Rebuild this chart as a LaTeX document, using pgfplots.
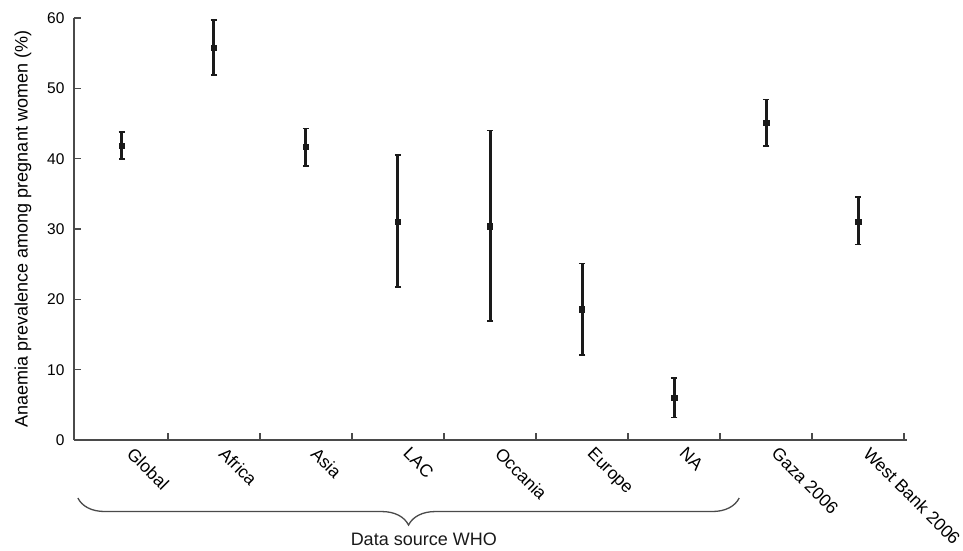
\documentclass[border=0pt]{standalone}
\usepackage{fontspec}
\setmainfont{Liberation Sans}
\usepackage{pgfplots}
\usepackage{pgfplotstable}
\pgfplotsset{compat=1.18}
\usetikzlibrary{decorations.pathreplacing}
\definecolor{axisgray}{HTML}{4A4A4A}
\definecolor{barblack}{HTML}{1A1A1A}
\pgfplotstableread{
x y ep em
0 41.9 1.9 2.0
1 55.8 3.9 3.9
2 41.7 2.6 2.7
3 31.0 9.5 9.2
4 30.4 13.6 13.5
5 18.6 6.5 6.5
6 6.0 2.8 2.8
7 45.1 3.3 3.3
8 31.0 3.5 3.2
}\datatable
\begin{document}
\begin{tikzpicture}
\begin{axis}[
  scale only axis, width=833pt, height=422pt,
  xmin=-0.52, xmax=8.53, ymin=0, ymax=60,
  axis lines=left,
  axis line style={-, line width=1.5pt, color=axisgray},
  xtick={0.5,1.5,...,8.5}, xticklabels={},
  extra x ticks={0,1,2,3,4,5,6,7,8},
  extra x tick labels={Global,Africa,Asia,LAC,Occania,Europe,NA,Gaza 2006,West Bank 2006},
  extra x tick style={major tick length=0pt,
    xticklabel style={xshift=13pt, yshift=-6pt, rotate=-45, anchor=north west, inner sep=0pt,
      font=\fontsize{17.5}{21}\selectfont}},
  ytick={0,10,...,60},
  yticklabel style={font=\fontsize{15.5}{18}\selectfont, xshift=-6pt},
  tick style={line width=1.5pt, color=axisgray},
  major tick length=7pt,
  tick align=inside,
  ylabel={Anaemia prevalence among pregnant women (\%)},
  ylabel style={at={(axis description cs:-0.0612,0.5)}, anchor=center, font=\fontsize{18}{21}\selectfont},
  clip=false,
  /pgf/number format/assume math mode=true,
]
\addplot[only marks, mark=square*, mark size=2.6pt, color=barblack,
  error bars/.cd, y dir=both, y explicit,
  error bar style={line width=3pt, color=barblack},
  error mark options={rotate=90, mark size=3.2pt, line width=1.8pt, color=barblack}]
  table[x=x, y=y, y error plus=ep, y error minus=em] {\datatable};
\draw[decorate, decoration={brace, mirror, amplitude=27pt}, line width=1.3pt, color=axisgray]
  (axis cs:-0.478,-8.25) -- (axis cs:6.707,-8.25);
\node[anchor=base, inner sep=0pt, font=\fontsize{18}{21}\selectfont, text=black!90]
  at (axis cs:3.28,-14.93) {Data source WHO};
\coordinate (bl) at (rel axis cs:0,0);
\coordinate (tr) at (rel axis cs:1,1);
\end{axis}
\pgfresetboundingbox
\path[use as bounding box] ([shift={(-74pt,-111pt)}]bl) rectangle ([shift={(56pt,18pt)}]tr);
\end{tikzpicture}
\end{document}
